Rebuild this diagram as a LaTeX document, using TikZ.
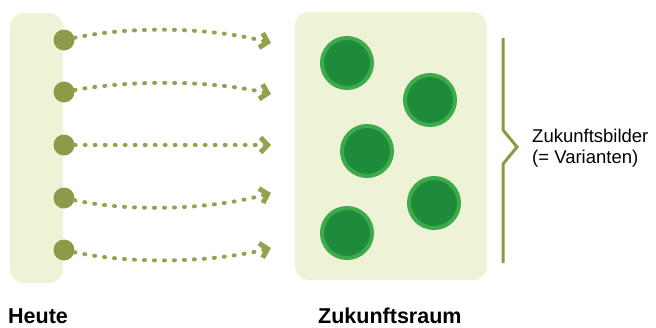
\documentclass[tikz,border=0pt]{standalone}
\usepackage{fontspec}
\setmainfont{Liberation Sans}
\usetikzlibrary{arrows.meta}

\definecolor{panelfill}{HTML}{EEF2D6}
\definecolor{olive}{HTML}{8C9B4A}
\definecolor{flowcol}{HTML}{93A34D}
\definecolor{ringgreen}{HTML}{3DAA4B}
\definecolor{coregreen}{HTML}{1E8B3A}
\definecolor{bracecol}{HTML}{8B9A45}

\tikzset{
  panel/.style={fill=panelfill, draw=none, rounded corners=14pt},
  srcdot/.style={circle, fill=olive, minimum size=21pt, inner sep=0pt},
  future/.style={circle, fill=coregreen, draw=ringgreen, line width=4pt,
                 minimum size=50pt, inner sep=0pt},
  flow/.style={draw=flowcol, line width=4pt, line cap=round, dash pattern=on 1pt off 9pt,
               -{Straight Barb[length=7pt,width=15pt,line width=5pt,line cap=butt]}},
  caption/.style={font=\bfseries\fontsize{21.5}{24}\selectfont, anchor=base west, inner sep=0pt},
  note/.style={font=\fontsize{18.5}{21}\selectfont, anchor=base west, inner sep=0pt}
}

\begin{document}
\begin{tikzpicture}[x=1pt,y=-1pt]
\useasboundingbox (0,0) rectangle (656,327);

% panels
\node[panel, minimum width=53pt, minimum height=270pt, inner sep=0pt] (today) at (36.5,148) {};
\node[panel, minimum width=192pt, minimum height=268pt, inner sep=0pt] (space) at (391,146) {};

% starting points
\node[srcdot] (d1) at (64,40) {};
\node[srcdot] (d2) at (64,92) {};
\node[srcdot] (d3) at (64,145) {};
\node[srcdot] (d4) at (64,198) {};
\node[srcdot] (d5) at (64,250) {};

% arrow ends
\coordinate (e1) at (271,43);
\coordinate (e2) at (271,94);
\coordinate (e3) at (271,145);
\coordinate (e4) at (271,193);
\coordinate (e5) at (271,248);

% dotted arrows
\draw[flow] (d1) .. controls (130,26) and (210,27) .. (e1);
\draw[flow] (d2) .. controls (130,80) and (210,80) .. (e2);
\draw[flow] (d3) -- (e3);
\draw[flow] (d4) .. controls (130,212) and (210,210) .. (e4);
\draw[flow] (d5) .. controls (130,264) and (210,263) .. (e5);

% future images
\node[future] (f1) at (347,63) {};
\node[future] (f2) at (430,100) {};
\node[future] (f3) at (367,151) {};
\node[future] (f4) at (434,203) {};
\node[future] (f5) at (347,233) {};

% brace
\coordinate (b1) at (503,38);
\coordinate (b2) at (503,130);
\coordinate (b3) at (517,147);
\coordinate (b4) at (503,164);
\coordinate (b5) at (503,263);
\draw[bracecol, line width=3pt, line join=miter] (b1) -- (b2) -- (b3) -- (b4) -- (b5);

% labels
\node[note] (zb1) at (532,142) {Zukunftsbilder};
\node[note] (zb2) at (532,163) {(= Varianten)};
\node[caption] (heute) at (8,323.5) {Heute};
\node[caption] (raum) at (318,323) {Zukunftsraum};
\end{tikzpicture}
\end{document}
